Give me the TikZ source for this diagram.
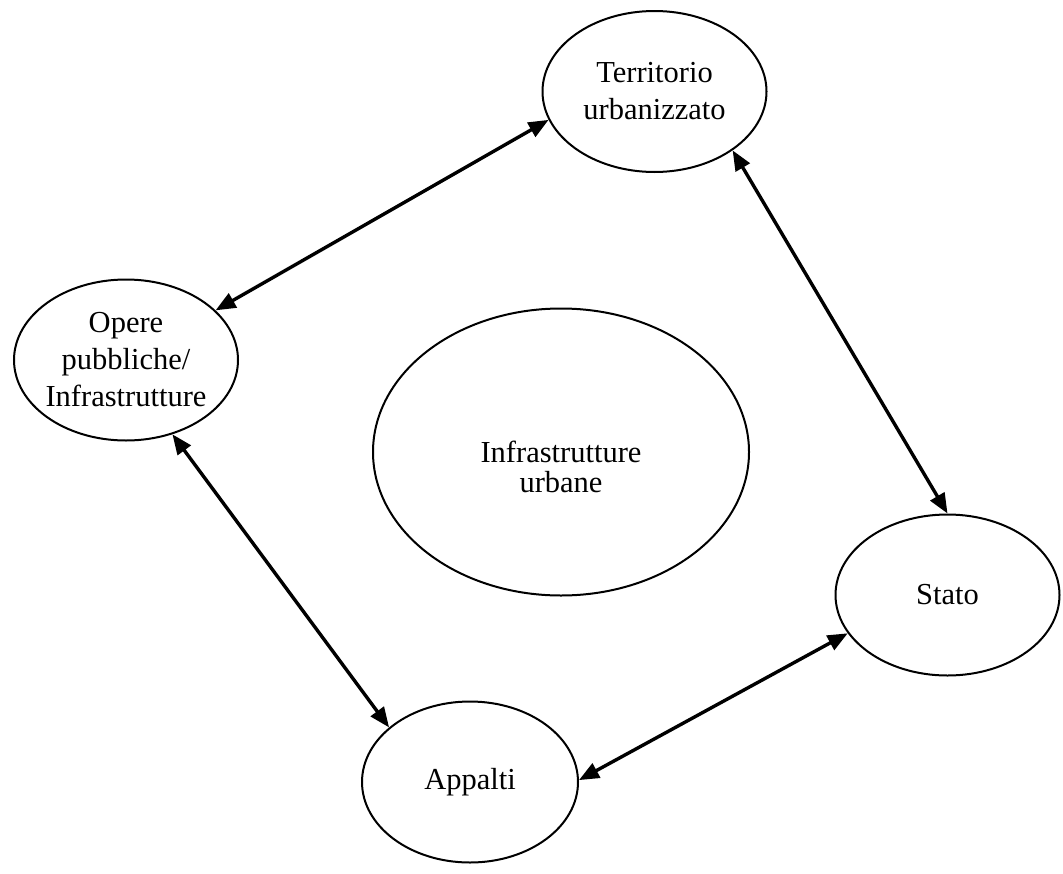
\documentclass[tikz,border=0pt]{standalone}
\usepackage{fontspec}
\setmainfont{Liberation Serif}
\usetikzlibrary{arrows.meta,shapes.geometric}

\begin{document}
\begin{tikzpicture}[x=1pt,y=-1pt,<->,>={Triangle[length=20pt,width=16pt]},
                    line width=3.4pt,
                    topic/.style={ellipse,draw,line width=2pt,align=center,inner sep=-6pt,
                                  minimum width=224pt,minimum height=161pt,
                                  font=\fontsize{30.5}{37}\selectfont}]
\useasboundingbox (0,0) rectangle (1063,873);
\node[topic] (ter) at (654.5,91.5) {Territorio\\urbanizzato};
\node[topic] (ope) at (126,360) {Opere\\pubbliche/\\Infrastrutture};
\node[topic] (sta) at (947.5,595) {Stato};
\node[topic,minimum width=216pt] (app) at (470,782) {Appalti};
\node[topic,minimum width=376pt,minimum height=287pt] (urb) at (561,452) {};
\node[align=center,font=\fontsize{30.5}{30}\selectfont] (urbtext) at (561,467) {Infrastrutture\\urbane};
\path (ter.195.6) edge (ope.29.7)
      (ter.323.7) edge (sta.90.3)
      (ope.302.4) edge (app.146.6)
      (app.1)     edge (sta.201.9);
\end{tikzpicture}
\end{document}
